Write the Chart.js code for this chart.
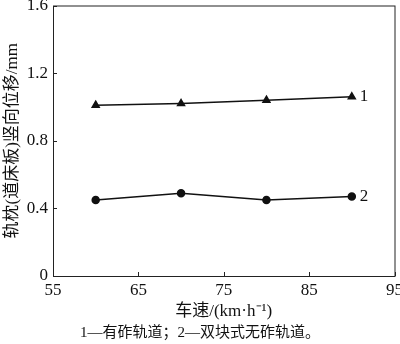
<!DOCTYPE html>
<html>
<head>
<meta charset="utf-8">
<script src="https://cdn.jsdelivr.net/npm/chart.js@4.4.0/dist/chart.umd.min.js"></script>
<style>
  html, body { margin: 0; padding: 0; background: #fff; }
  #wrap { width: 400px; height: 344px; }
</style>
</head>
<body>
<div id="wrap"><canvas id="myChart"></canvas></div>
<script>
var speeds = [60, 70, 80, 90];
var ballasted = [1.01, 1.02, 1.04, 1.06];
var ballastless = [0.45, 0.49, 0.45, 0.47];
var seriesLabels = ['1', '2'];
var xTicks = [55, 65, 75, 85, 95];
var yTicks = [0, 0.4, 0.8, 1.2, 1.6];
var caption = '1—有砟轨道；2—双块式无砟轨道。';

var serif = '"Liberation Serif", "Times New Roman", serif';
var cjk = '"Liberation Serif", "Noto Sans CJK SC", serif';

// frame around the plot, inward ticks, curve numbers and the caption
var framePlugin = {
    id: 'frame',
    afterDraw: function (chart) {
        var c = chart.ctx, a = chart.chartArea;
        var xs = chart.scales.x, ys = chart.scales.y;
        c.save();
        c.strokeStyle = '#222';
        c.lineWidth = 1;
        c.strokeRect(a.left + 0.5, a.top + 0.5, a.right - a.left, a.bottom - a.top);
        c.beginPath();
        xTicks.forEach(function (v) {
            var px = Math.round(xs.getPixelForValue(v)) + 0.5;
            c.moveTo(px, a.bottom);
            c.lineTo(px, a.bottom - 4);
        });
        yTicks.forEach(function (v) {
            var py = Math.round(ys.getPixelForValue(v)) + 0.5;
            c.moveTo(a.left, py);
            c.lineTo(a.left + 4, py);
        });
        c.stroke();

        c.fillStyle = '#111';
        c.font = '17px ' + serif;
        c.textAlign = 'left';
        c.textBaseline = 'middle';
        chart.data.datasets.forEach(function (ds, i) {
            var meta = chart.getDatasetMeta(i);
            var last = meta.data[meta.data.length - 1];
            c.fillText(seriesLabels[i], last.x + 8, last.y);
        });

        c.font = '15px ' + cjk;
        c.textAlign = 'center';
        c.fillText(caption, 200, 333);
        c.restore();
    }
};

new Chart(document.getElementById('myChart'), {
    type: 'line',
    data: {
        labels: speeds,
        datasets: [
            {
                label: seriesLabels[0],
                data: ballasted,
                borderColor: '#111',
                backgroundColor: '#111',
                borderWidth: 1.5,
                pointStyle: 'triangle',
                pointRadius: 4,
                fill: false,
                tension: 0
            },
            {
                label: seriesLabels[1],
                data: ballastless,
                borderColor: '#111',
                backgroundColor: '#111',
                borderWidth: 1.5,
                pointStyle: 'circle',
                pointRadius: 3.5,
                fill: false,
                tension: 0
            }
        ]
    },
    options: {
        responsive: true,
        maintainAspectRatio: false,
        animation: false,
        layout: {
            padding: { top: 4, right: 5, bottom: 0, left: 0 }
        },
        plugins: {
            legend: { display: false },
            tooltip: { enabled: false }
        },
        scales: {
            x: {
                type: 'linear',
                min: 55,
                max: 95,
                afterBuildTicks: function (scale) {
                    scale.ticks = xTicks.map(function (v) { return { value: v }; });
                },
                afterFit: function (scale) {
                    scale.height = 68;
                    scale.paddingLeft = 0;
                    scale.paddingRight = 0;
                },
                grid: { display: false, drawTicks: false },
                border: { display: false },
                ticks: {
                    color: '#111',
                    padding: 4,
                    maxRotation: 0,
                    font: { family: serif, size: 17 }
                },
                title: {
                    display: true,
                    text: '车速/(km·h⁻¹)',
                    color: '#111',
                    padding: { top: 0, bottom: 22 },
                    font: { family: cjk, size: 17 }
                }
            },
            y: {
                min: 0,
                max: 1.6,
                afterBuildTicks: function (scale) {
                    scale.ticks = yTicks.map(function (v) { return { value: v }; });
                },
                afterFit: function (scale) {
                    scale.width = 53;
                    scale.paddingTop = 0;
                    scale.paddingBottom = 0;
                },
                grid: { display: false, drawTicks: false },
                border: { display: false },
                ticks: {
                    color: '#111',
                    padding: 5,
                    font: { family: serif, size: 17 }
                },
                title: {
                    display: true,
                    text: '轨枕(道床板)竖向位移/mm',
                    color: '#111',
                    padding: { top: 2, bottom: 0 },
                    font: { family: cjk, size: 17 }
                }
            }
        }
    },
    plugins: [framePlugin]
});
</script>
</body>
</html>
